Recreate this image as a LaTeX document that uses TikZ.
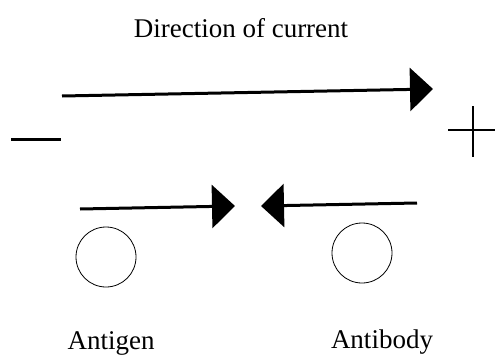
\documentclass[tikz,border=0pt]{standalone}
\usepackage{fontspec}
\setmainfont{Liberation Serif}
\usetikzlibrary{arrows.meta}
\begin{document}
\begin{tikzpicture}[x=1pt,y=-1pt,
  bigarrow/.style={line width=3pt,-{Triangle[length=23pt,width=43pt]}},
  particle/.style={draw,circle,line width=0.8pt,minimum size=60pt,inner sep=0pt},
  label/.style={font=\fontsize{27}{30}\selectfont,inner sep=0pt,anchor=base},
  sign/.style={line width=3pt}]
\useasboundingbox (0,0) rectangle (495,356);
\node[label] (title) at (241,37) {Direction of current};
\coordinate (ts) at (62,96);
\coordinate (te) at (433,89);
\draw[bigarrow] (ts) -- (te);
\coordinate (m1) at (11,139);
\coordinate (m2) at (61,139);
\draw[sign] (m1) -- (m2);
\coordinate (p1) at (448,130);
\coordinate (p2) at (495,130);
\coordinate (p3) at (473,106);
\coordinate (p4) at (473,157);
\draw[line width=2.2pt] (p1) -- (p2) (p3) -- (p4);
\coordinate (ls) at (80,209);
\coordinate (le) at (235,206);
\draw[bigarrow] (ls) -- (le);
\coordinate (rs) at (417,203);
\coordinate (re) at (261,206);
\draw[bigarrow] (rs) -- (re);
\node[particle] (antigen) at (106,257) {};
\node[particle] (antibody) at (362,253) {};
\node[label] (lag) at (111,349) {Antigen};
\node[label] (lab) at (382,348) {Antibody};
\end{tikzpicture}
\end{document}
